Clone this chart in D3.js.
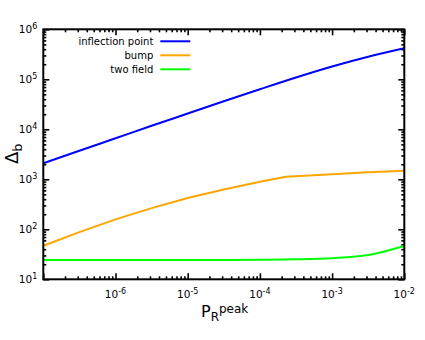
<!DOCTYPE html>
<html>
<head>
<meta charset="utf-8">
<script src="https://cdn.jsdelivr.net/npm/d3@7"></script>
<style>
  body { margin: 0; background: #fff; }
  svg { font-family: 'DejaVu Sans', sans-serif; }
</style>
</head>
<body>
<div id="root"></div>
<script>
// P_R^peak sample points (log-spaced)
const pPeak = [1e-7, 3.16e-7, 1e-6, 3.16e-6, 1e-5, 3.16e-5, 1e-4, 3.16e-4, 1e-3, 3.16e-3, 1e-2];
const inflection = [2090, 3720, 6610, 11750, 20650, 36300, 63100, 108400, 179900, 281800, 417000];
const twoField = [24.3, 24.3, 24.3, 24.3, 24.3, 24.4, 24.6, 25.1, 26.5, 30.6, 46.4];
// bump curve has a kink, so it keeps its own x values
const pBump = [1e-7, 3.16e-7, 1e-6, 3.16e-6, 1e-5, 3.16e-5, 1e-4, 2.3e-4, 1e-3, 3.16e-3, 1e-2];
const bump = [46.8, 88, 158, 265, 423, 627, 891, 1122, 1259, 1380, 1479];

const seriesNames = ['inflection point', 'bump', 'two field'];
const seriesColors = ['#0000ff', '#ffa500', '#00ff00'];
const xDecades = [-7, -6, -5, -4, -3, -2];
const yDecades = [1, 2, 3, 4, 5, 6];

const width = 425;
const height = 340;
const margin = { top: 29.3, right: 20.7, bottom: 60.7, left: 43.3 };
const chartWidth = width - margin.left - margin.right;
const chartHeight = height - margin.top - margin.bottom;

const svg = d3.select('#root').append('svg')
  .attr('width', width)
  .attr('height', height);

const chart = svg.append('g')
  .attr('transform', `translate(${margin.left}, ${margin.top})`);

const xScale = d3.scaleLog()
  .domain([1e-7, 1e-2])
  .range([0, chartWidth]);

const yScale = d3.scaleLog()
  .domain([10, 1e6])
  .range([chartHeight, 0]);

const minorTicks = decades => {
  const out = [];
  decades.slice(0, -1).forEach(e => {
    for (let k = 2; k <= 9; k++) out.push(k * Math.pow(10, e));
  });
  return out;
};

const xMajor = xDecades.map(e => Math.pow(10, e));
const yMajor = yDecades.map(e => Math.pow(10, e));

// ticks on all four sides, pointing inward
const tickGroups = [
  { axis: d3.axisBottom, scale: xScale, values: xMajor, size: 6, t: `translate(0, ${chartHeight})` },
  { axis: d3.axisBottom, scale: xScale, values: minorTicks(xDecades), size: 3, t: `translate(0, ${chartHeight})` },
  { axis: d3.axisTop, scale: xScale, values: xMajor, size: 6, t: 'translate(0, 0)' },
  { axis: d3.axisTop, scale: xScale, values: minorTicks(xDecades), size: 3, t: 'translate(0, 0)' },
  { axis: d3.axisLeft, scale: yScale, values: yMajor, size: 6, t: 'translate(0, 0)' },
  { axis: d3.axisLeft, scale: yScale, values: minorTicks(yDecades), size: 3, t: 'translate(0, 0)' },
  { axis: d3.axisRight, scale: yScale, values: yMajor, size: 6, t: `translate(${chartWidth}, 0)` },
  { axis: d3.axisRight, scale: yScale, values: minorTicks(yDecades), size: 3, t: `translate(${chartWidth}, 0)` },
];

tickGroups.forEach(g => {
  chart.append('g')
    .attr('transform', g.t)
    .call(g.axis(g.scale).tickValues(g.values).tickSize(-g.size).tickFormat(''))
    .call(s => s.select('.domain').remove())
    .call(s => s.selectAll('line').attr('stroke', '#000').attr('stroke-width', 1.6));
});

// tick labels with superscript exponents
chart.append('g')
  .selectAll('text')
  .data(xDecades.slice(1))
  .enter()
  .append('text')
  .attr('x', d => xScale(Math.pow(10, d)))
  .attr('y', chartHeight + 19)
  .attr('text-anchor', 'middle')
  .attr('font-size', 10.5)
  .call(t => t.append('tspan').text('10'))
  .call(t => t.append('tspan').attr('dy', -4.5).attr('font-size', 8).text(d => d));

chart.append('g')
  .selectAll('text')
  .data(yDecades)
  .enter()
  .append('text')
  .attr('x', -6)
  .attr('y', d => yScale(Math.pow(10, d)) + 4)
  .attr('text-anchor', 'end')
  .attr('font-size', 10.5)
  .call(t => t.append('tspan').text('10'))
  .call(t => t.append('tspan').attr('dy', -4.5).attr('font-size', 8).text(d => d));

// curves
const line = (xs, ys, curve) => d3.line()
  .x((d, i) => xScale(xs[i]))
  .y(d => yScale(d))
  .curve(curve)(ys);

const curves = [
  { xs: pPeak, ys: inflection, curve: d3.curveMonotoneX },
  { xs: pBump, ys: bump, curve: d3.curveLinear },
  { xs: pPeak, ys: twoField, curve: d3.curveMonotoneX },
];

chart.append('g')
  .selectAll('path')
  .data(curves)
  .enter()
  .append('path')
  .attr('d', d => line(d.xs, d.ys, d.curve))
  .attr('fill', 'none')
  .attr('stroke', (d, i) => seriesColors[i])
  .attr('stroke-width', 2);

// frame
chart.append('rect')
  .attr('width', chartWidth)
  .attr('height', chartHeight)
  .attr('fill', 'none')
  .attr('stroke', '#000')
  .attr('stroke-width', 2);

// legend
const legend = chart.append('g')
  .attr('transform', 'translate(110, 12)');

const rows = legend.selectAll('g')
  .data(seriesNames)
  .enter()
  .append('g')
  .attr('transform', (d, i) => `translate(0, ${i * 14})`);

rows.append('text')
  .attr('x', 0)
  .attr('y', 3.5)
  .attr('text-anchor', 'end')
  .attr('font-size', 10)
  .text(d => d);

rows.append('line')
  .attr('x1', 7)
  .attr('x2', 37)
  .attr('stroke', (d, i) => seriesColors[i])
  .attr('stroke-width', 2);

// axis titles
svg.append('text')
  .attr('x', 201)
  .attr('y', 317)
  .attr('font-size', 16)
  .call(t => t.append('tspan').text('P'))
  .call(t => t.append('tspan').attr('font-size', 12).attr('dy', 4).text('R'))
  .call(t => t.append('tspan').attr('font-size', 12).attr('dy', -8.5).text('peak'));

svg.append('text')
  .attr('transform', 'translate(18, 164) rotate(-90)')
  .attr('font-size', 18)
  .call(t => t.append('tspan').text('Δ'))
  .call(t => t.append('tspan').attr('font-size', 13).attr('dy', 4).text('b'));
</script>
</body>
</html>
